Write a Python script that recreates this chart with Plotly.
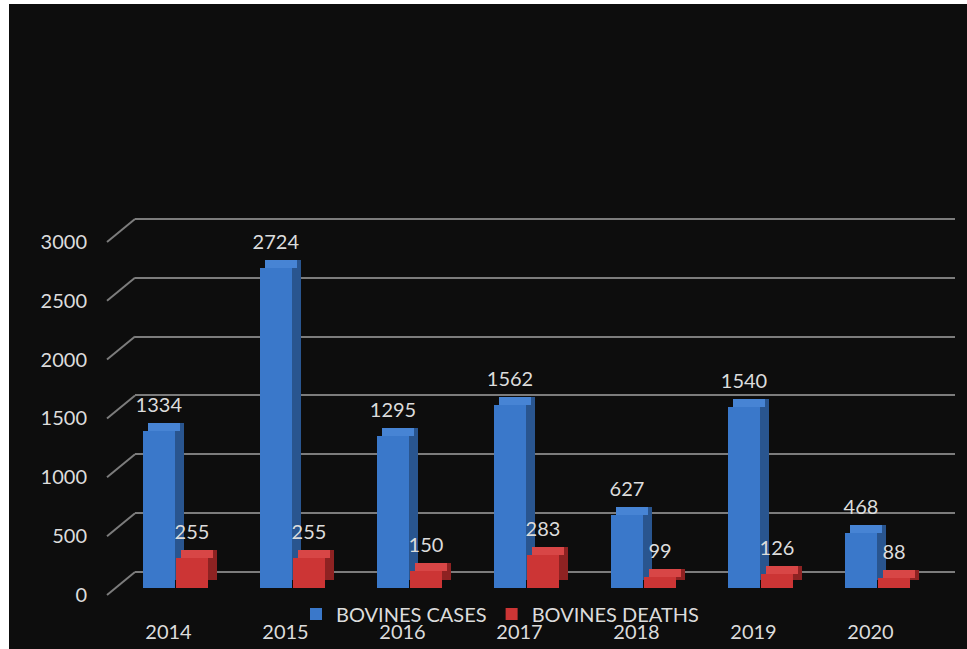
import plotly.graph_objects as go

# ---- data ----
years = ["2014", "2015", "2016", "2017", "2018", "2019", "2020"]
cases = [1334, 2724, 1295, 1562, 627, 1540, 468]
deaths = [255, 255, 150, 283, 99, 126, 88]
y_ticks = [0, 500, 1000, 1500, 2000, 2500, 3000]
series_names = ["BOVINES CASES", "BOVINES DEATHS"]

# ---- geometry helpers (pixels -> paper fractions) ----
W, H = 967, 649
PPU = 0.1177          # pixels per unit on the value axis
CAT = 117.0           # pixels per category
FONT = "Lato"
TXT = "#dcdcdc"
GRID = "#7c7c7c"


def fx(px):
    return px / W


def fy(py):
    return 1 - py / H


def ydom(zero_px, rmin, rmax):
    return [fy(zero_px - rmin * PPU), fy(zero_px - rmax * PPU)]


def off(px):
    return px / CAT


FACE_W = 32
DX, DY_PX = 9, 8
DY = DY_PX / PPU
LBL = 12 / PPU
n = len(years)

styles = [
    dict(front="#3a78ca", side="#29558f", top="#4784d4", left=-32.5),
    dict(front="#cc3535", side="#8e2222", top="#d84646", left=0.5),
]

fig = go.Figure()

# helper traces so the grid / label subplots exist
fig.add_trace(go.Scatter(x=[], y=[], xaxis="x", yaxis="y", showlegend=False, hoverinfo="skip"))
fig.add_trace(go.Scatter(x=[], y=[], xaxis="x3", yaxis="y3", showlegend=False, hoverinfo="skip"))

for vals, name, st in zip([cases, deaths], series_names, styles):
    L = st["left"]
    # side face
    fig.add_trace(go.Bar(x=years, y=vals, base=[DY] * n, offset=off(L + DX), width=off(FACE_W),
                         marker=dict(color=st["side"], line=dict(width=0)),
                         xaxis="x2", yaxis="y2", showlegend=False, hoverinfo="skip"))
    # top face
    fig.add_trace(go.Bar(x=years, y=[DY] * n, base=vals, offset=off(L + DX / 2), width=off(FACE_W),
                         marker=dict(color=st["top"], line=dict(width=0)),
                         xaxis="x2", yaxis="y2", showlegend=False, hoverinfo="skip"))
    # front face
    fig.add_trace(go.Bar(x=years, y=vals, offset=off(L), width=off(FACE_W), name=name,
                         marker=dict(color=st["front"], line=dict(width=0)),
                         xaxis="x2", yaxis="y2", showlegend=True))
    # data labels
    fig.add_trace(go.Bar(x=years, y=[LBL] * n, base=vals, offset=off(L), width=off(FACE_W),
                         marker=dict(color="rgba(0,0,0,0)", line=dict(width=0)),
                         text=[str(v) for v in vals], textposition="outside",
                         constraintext="none", cliponaxis=False,
                         textfont=dict(family=FONT, size=20, color=TXT),
                         xaxis="x2", yaxis="y2", showlegend=False, hoverinfo="skip"))

shapes = [dict(type="rect", xref="paper", yref="paper", x0=fx(9), x1=1.0, y0=0, y1=fy(4),
               fillcolor="#0d0d0d", line=dict(width=0), layer="below")]
# soft radial glow of the dark panel
for i in range(14):
    r = 560 - i * 30
    cx, cy = 500, 220
    shapes.append(dict(type="circle", xref="paper", yref="paper",
                       x0=fx(cx - r * 1.1), x1=fx(cx + r * 1.1), y0=fy(cy + r), y1=fy(cy - r),
                       fillcolor="rgba(255,255,255,0.0045)", line=dict(width=0), layer="below"))
shapes.append(dict(type="rect", xref="paper", yref="paper", x0=0, x1=fx(9), y0=0, y1=1,
                   fillcolor="white", line=dict(width=0), layer="below"))
shapes.append(dict(type="rect", xref="paper", yref="paper", x0=0, x1=1, y0=fy(4), y1=1,
                   fillcolor="white", line=dict(width=0), layer="below"))
for v in y_ticks:
    back = 572 - v * PPU
    front = back + 23
    shapes.append(dict(type="line", xref="paper", yref="paper",
                       x0=fx(107), y0=fy(front), x1=fx(135), y1=fy(back),
                       line=dict(color=GRID, width=2), layer="below"))

fig.update_layout(
    width=W, height=H, autosize=False,
    margin=dict(l=0, r=0, t=0, b=0),
    paper_bgcolor="white", plot_bgcolor="rgba(0,0,0,0)",
    barmode="overlay",
    font=dict(family=FONT, size=20, color=TXT),
    shapes=shapes,
    # back grid
    xaxis=dict(domain=[fx(135), fx(955)], range=[0, 1], visible=False, anchor="y"),
    yaxis=dict(domain=ydom(572, -100, 3300), range=[-100, 3300], anchor="x",
               tickvals=y_ticks, showgrid=True, gridcolor=GRID, gridwidth=2,
               showticklabels=False, zeroline=False, showline=False, ticks=""),
    # bars
    xaxis2=dict(domain=[fx(117), fx(936)], type="category", range=[-0.5, 6.5], anchor="y2",
                showgrid=False, zeroline=False, showline=False, ticks="",
                tickfont=dict(family=FONT, size=20, color=TXT),
                ticklabelstandoff=30, ticklabelshift=-7),
    yaxis2=dict(domain=ydom(588, 0, 3300), range=[0, 3300], anchor="x2", visible=False),
    # front value labels
    xaxis3=dict(domain=[fx(107), fx(140)], range=[0, 1], visible=False, anchor="y3"),
    yaxis3=dict(domain=ydom(595, -100, 3300), range=[-100, 3300], anchor="x3",
                tickvals=y_ticks, showgrid=False, zeroline=False, showline=False, ticks="",
                tickfont=dict(family=FONT, size=20, color=TXT), ticklabelstandoff=19),
    legend=dict(orientation="h", x=fx(500), y=fy(614), xanchor="center", yanchor="middle",
                bgcolor="rgba(0,0,0,0)", font=dict(family=FONT, size=20, color=TXT)),
    bargap=0,
)

fig.write_html("out.html")
